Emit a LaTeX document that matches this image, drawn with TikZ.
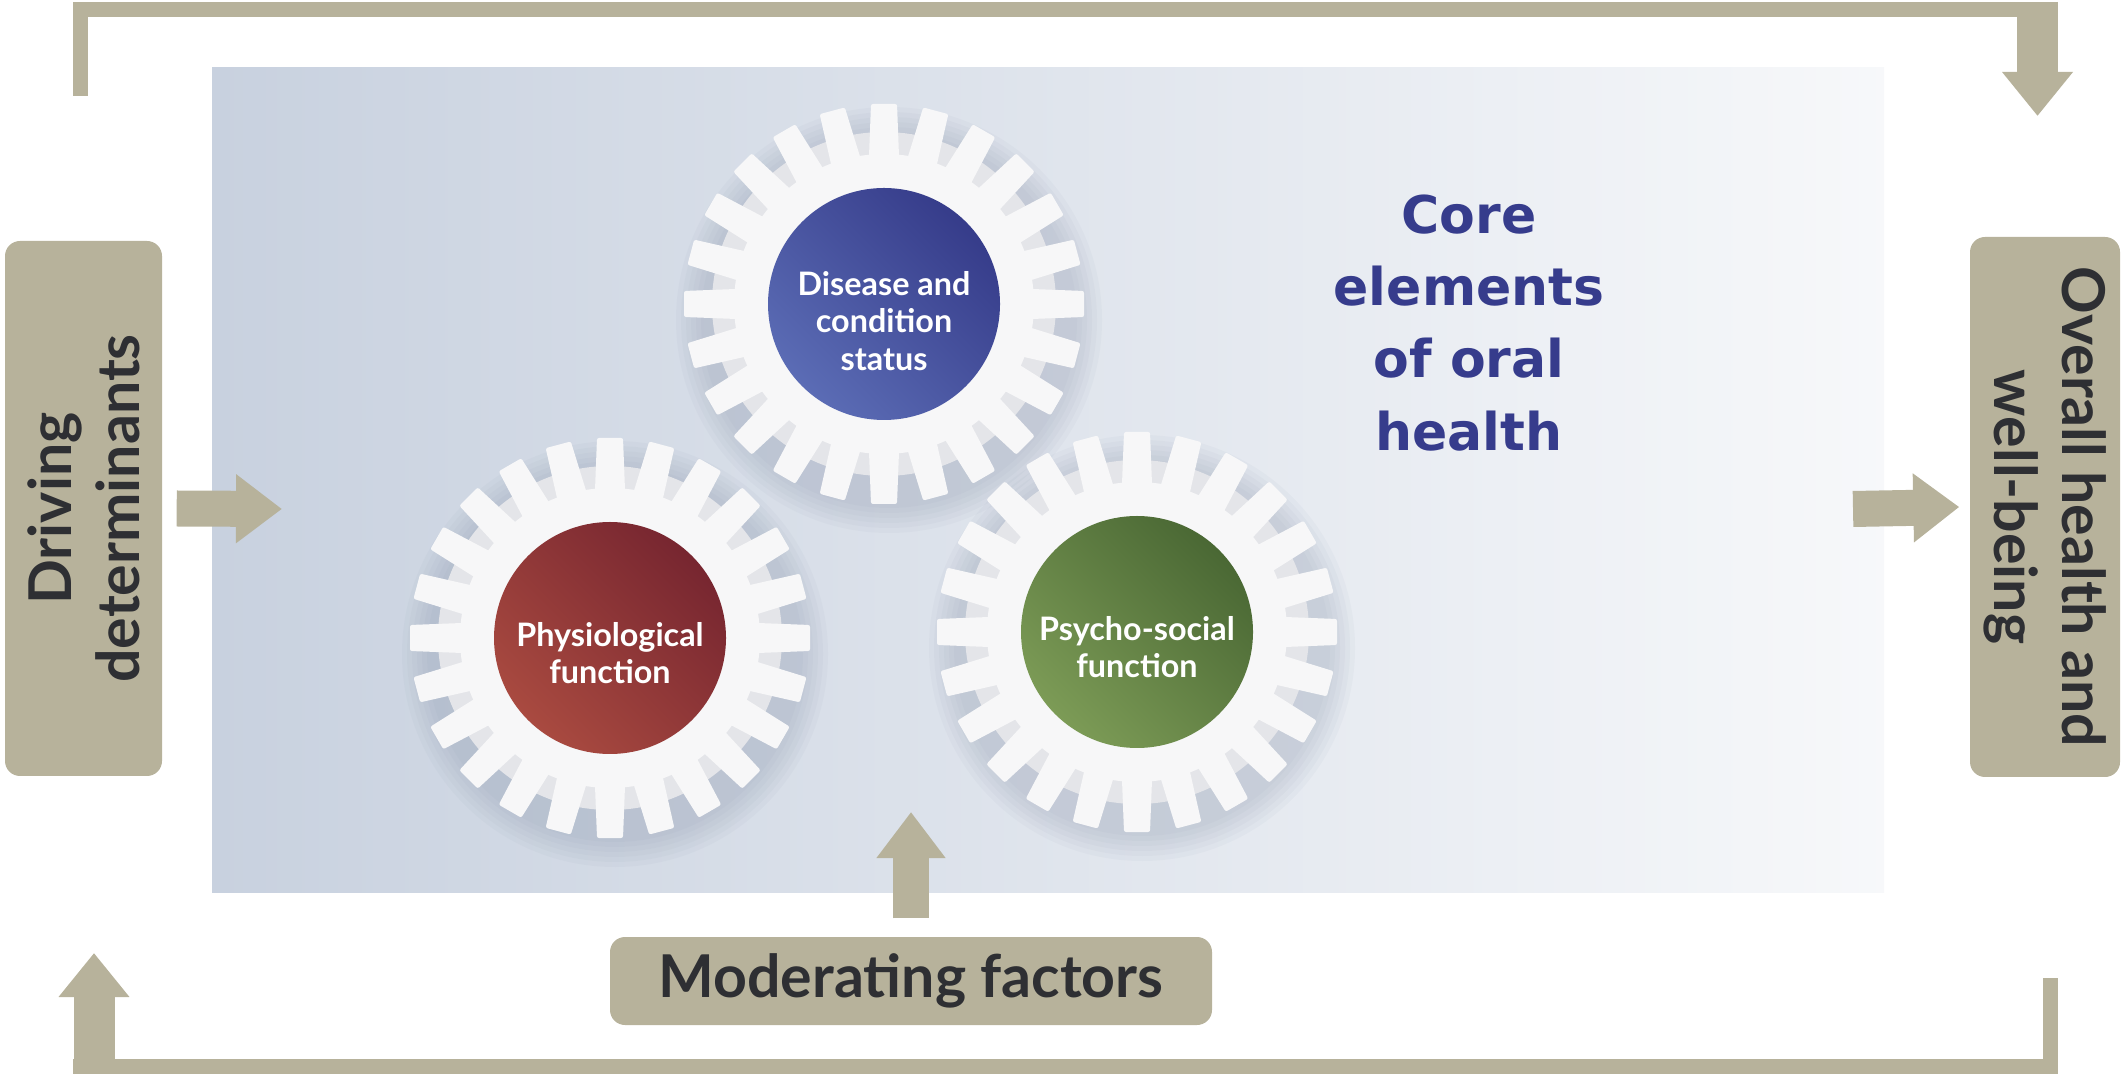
\documentclass[tikz,border=0pt]{standalone}
\usepackage{fontspec}
\setmainfont{Lato}
\newfontfamily\corefont{DejaVu Sans}
\usetikzlibrary{arrows.meta,positioning}

\definecolor{khaki}{HTML}{B7B29B}
\definecolor{darktext}{HTML}{2E2F33}
\definecolor{panelblue}{HTML}{C8D1DF}
\definecolor{coreblue}{HTML}{363C8C}
\definecolor{geargray}{HTML}{E4E5E9}
\definecolor{gearwhite}{HTML}{F7F7F8}
\definecolor{gearshadow}{HTML}{7E8BA3}
\definecolor{bluedark}{HTML}{363C8A}
\definecolor{bluelight}{HTML}{5B6CB5}
\definecolor{reddark}{HTML}{772630}
\definecolor{redlight}{HTML}{A94A40}
\definecolor{greendark}{HTML}{4A6834}
\definecolor{greenlight}{HTML}{7C9B56}

\tikzset{
  sidebox/.style={fill=khaki, rounded corners=0.15cm, text=darktext, align=center, inner sep=0,
    font=\bfseries\fontsize{16.8}{19.3}\selectfont},
  fatarrow/.style={draw=khaki, line width=0.36cm, -{Triangle[width=0.66cm,length=0.46cm]}},
  fbarrow/.style={draw=khaki, line width=0.41cm, -{Triangle[width=0.68cm,length=0.44cm]}},
  loopline/.style={draw=khaki, line width=0.15cm},
  element/.style={circle, minimum size=2.32cm, inner sep=0},
  elemtext/.style={text=white, align=center, font=\bfseries\fontsize{9.2}{10.6}\selectfont},
}

\begin{document}
\begin{tikzpicture}
    \useasboundingbox (0,0) rectangle (21.28,-10.75);

    % background panel
    \fill[left color=panelblue, middle color=panelblue!88!white, right color=panelblue!15!white]
        (2.12,-0.68) rectangle (18.84,-8.92);

    % soft shadows under the gears
    \foreach \cx/\cy in {8.84/-3.04, 6.10/-6.38, 11.37/-6.32} {
        \begin{scope}[shift={(\cx,\cy)}]
            \foreach \k in {0,...,5}
                \fill[gearshadow, opacity=0.05] (0.05,-0.16) circle ({1.88+0.05*\k});
        \end{scope}
    }

    % gears
    \foreach \cx/\cy in {8.84/-3.04, 6.10/-6.38, 11.37/-6.32} {
        \begin{scope}[shift={(\cx,\cy)}]
            \fill[geargray] (0,0) circle (1.72);
            \foreach \a in {0,15,...,345}
                \fill[gearwhite, rotate=\a, rounded corners=0.02cm]
                    (-0.155,1.35) -- (-0.13,2.0) -- (0.13,2.0) -- (0.155,1.35) -- cycle;
            \fill[gearwhite] (0,0) circle (1.5);
        \end{scope}
    }

    \node[element, top color=bluedark, bottom color=bluelight, shading angle=-45] (dis) at (8.84,-3.04) {};
    \node[element, top color=reddark, bottom color=redlight, shading angle=-45] (phy) at (6.10,-6.38) {};
    \node[element, top color=greendark, bottom color=greenlight, shading angle=-45] (psy) at (11.37,-6.32) {};
    \node[elemtext] (distext) at ([yshift=-0.17cm]dis.center) {Disease and\\condition\\status};
    \node[elemtext] (phytext) at ([yshift=-0.15cm]phy.center) {Physiological\\function};
    \node[elemtext] (psytext) at ([yshift=-0.15cm]psy.center) {Psycho-social\\function};

    \node[text=coreblue, align=center, font=\corefont\bfseries\fontsize{14.8}{20.5}\selectfont] (elem) at (14.69,-3.23)
        {Core\\elements\\of oral\\health};

    % side boxes
    \node[sidebox, rotate=90, minimum width=5.35cm, minimum height=1.57cm] (drv) at (0.835,-5.085) {Driving\\determinants};
    \node[sidebox, rotate=-90, minimum width=5.4cm, minimum height=1.5cm] (ovr) at (20.45,-5.07) {Overall health and\\well-being};
    \node[sidebox, minimum width=6.02cm, minimum height=0.88cm] (mod) at (9.11,-9.81) {Moderating factors};

    % block arrows
    \coordinate (drvtip) at (2.82,-5.09);
    \coordinate (ovrfrom) at (18.53,-5.09);
    \coordinate (modtip) at (9.11,-8.12);
    \draw[fatarrow] ([xshift=0.14cm]drv.south) -- (drvtip);
    \draw[fatarrow] (ovrfrom) -- ([xshift=-0.1cm]ovr.south);
    \draw[fatarrow] ([yshift=0.18cm]mod.north) -- (modtip);

    % feedback loops
    \coordinate (fbtop) at (0.805,-0.96);
    \coordinate (fbturn) at (20.58,-0.095);
    \coordinate (fbdown) at (20.375,-0.02);
    \coordinate (fbdowntip) at (20.375,-1.16);
    \draw[loopline] (fbtop) |- (fbturn);
    \draw[fbarrow] (fbdown) -- (fbdowntip);

    \coordinate (fbbot) at (20.505,-9.78);
    \coordinate (fbleft) at (0.73,-10.665);
    \coordinate (fbup) at (0.94,-10.74);
    \coordinate (fbuptip) at (0.94,-9.53);
    \draw[loopline] (fbbot) |- (fbleft);
    \draw[fbarrow] (fbup) -- (fbuptip);
\end{tikzpicture}
\end{document}
